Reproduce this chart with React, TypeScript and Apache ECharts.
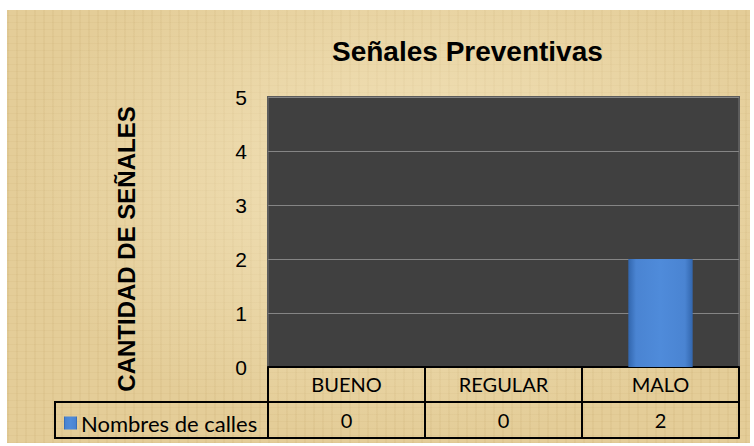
import React, { useEffect, useRef } from "react";
import * as echarts from "echarts";

const titleText = "Señales Preventivas";
const yAxisName = "CANTIDAD DE SEÑALES";
const categories = ["BUENO", "REGULAR", "MALO"];
const seriesName = "Nombres de calles";
const values = [0, 0, 2];
const yMin = 0;
const yMax = 5;
const yStep = 1;

export default function App() {
  const ref = useRef<HTMLDivElement>(null);

  useEffect(() => {
    if (!ref.current) return;
    const chart = echarts.init(ref.current, undefined, { renderer: "svg" });
    const barColor = new echarts.graphic.LinearGradient(0, 0, 1, 0, [
      { offset: 0, color: "#3266ad" },
      { offset: 0.12, color: "#4a84d2" },
      { offset: 0.5, color: "#4f8bda" },
      { offset: 0.88, color: "#4a84d2" },
      { offset: 1, color: "#3266ad" },
    ]);
    const tableFont = "Lato, 'Open Sans', sans-serif";
    const arial = "'Liberation Sans', Arial, sans-serif";
    chart.setOption({
      animation: false,
      title: {
        text: titleText,
        left: 327,
        top: 32,
        textStyle: {
          fontFamily: arial,
          fontWeight: "bold",
          fontSize: 28,
          color: "#000",
        },
      },
      legend: {
        data: [seriesName],
        left: 59,
        top: 407,
        icon: "rect",
        itemWidth: 13,
        itemHeight: 13,
        itemGap: 4,
        textStyle: { fontFamily: tableFont, fontSize: 22, color: "#000", padding: [0, 0, 0, -1] },
      },
      grid: {
        left: 268,
        right: 15,
        top: 97,
        bottom: 79,
        show: true,
        backgroundColor: "#404040",
        borderColor: "#5c5c5c",
        borderWidth: 2,
      },
      xAxis: [
        {
          type: "category",
          data: categories,
          position: "bottom",
          axisLine: { show: true, lineStyle: { color: "#000", width: 2 } },
          axisTick: { show: true, length: 35, lineStyle: { color: "#000", width: 2 } },
          axisLabel: { fontFamily: tableFont, fontSize: 20, color: "#000", margin: 7 },
        },
        {
          type: "category",
          data: categories,
          position: "bottom",
          offset: 35,
          axisLine: { show: true, lineStyle: { color: "#000", width: 2 } },
          axisTick: { show: true, length: 36, lineStyle: { color: "#000", width: 2 } },
          axisLabel: {
            fontFamily: tableFont,
            fontSize: 20,
            color: "#000",
            margin: 8,
            formatter: (_v: string, i: number) => String(values[i]),
          },
        },
        {
          type: "category",
          data: categories,
          position: "bottom",
          offset: 71,
          axisLine: { show: true, lineStyle: { color: "#000", width: 2 } },
          axisTick: { show: false },
          axisLabel: { show: false },
        },
      ],
      yAxis: {
        type: "value",
        min: yMin,
        max: yMax,
        interval: yStep,
        axisLine: { show: false },
        axisTick: { show: false },
        axisLabel: {
          fontFamily: arial,
          fontSize: 21,
          color: "#000",
          margin: 21,
        },
        splitLine: { lineStyle: { color: "#858585", width: 1 } },
      },
      graphic: [
        {
          type: "rect",
          shape: { x: 55, y: 402, width: 213, height: 36 },
          style: { fill: "none", stroke: "#000", lineWidth: 2 },
        },
        {
          type: "text",
          x: 126,
          y: 249,
          rotation: Math.PI / 2,
          style: {
            text: yAxisName,
            fontFamily: arial,
            fontWeight: "bold",
            fontSize: 24,
            fill: "#000",
            align: "center",
            verticalAlign: "middle",
          },
        },
      ],
      series: [
        {
          name: seriesName,
          type: "bar",
          data: values,
          barWidth: "41%",
          itemStyle: { color: barColor },
        },
      ],
    });
    return () => chart.dispose();
  }, []);

  const parchment: React.CSSProperties = {
    position: "absolute",
    left: 7,
    top: 10,
    width: 743,
    height: 433,
    backgroundColor: "#e4cd98",
    backgroundImage:
      "radial-gradient(ellipse at 55% 40%, rgba(255,245,215,0.55), rgba(255,240,200,0) 70%)," +
      "repeating-linear-gradient(90deg, rgba(150,110,40,0.06) 0px, rgba(150,110,40,0.06) 2px, rgba(0,0,0,0) 2px, rgba(0,0,0,0) 9px)," +
      "repeating-linear-gradient(0deg, rgba(150,110,40,0.05) 0px, rgba(150,110,40,0.05) 1px, rgba(0,0,0,0) 1px, rgba(0,0,0,0) 7px)",
  };

  return (
    <div style={{ position: "absolute", left: 0, top: 0, width: 754, height: 446, background: "#fff" }}>
      <div style={parchment} />
      <div ref={ref} style={{ position: "absolute", left: 0, top: 0, width: 754, height: 446 }} />
    </div>
  );
}
